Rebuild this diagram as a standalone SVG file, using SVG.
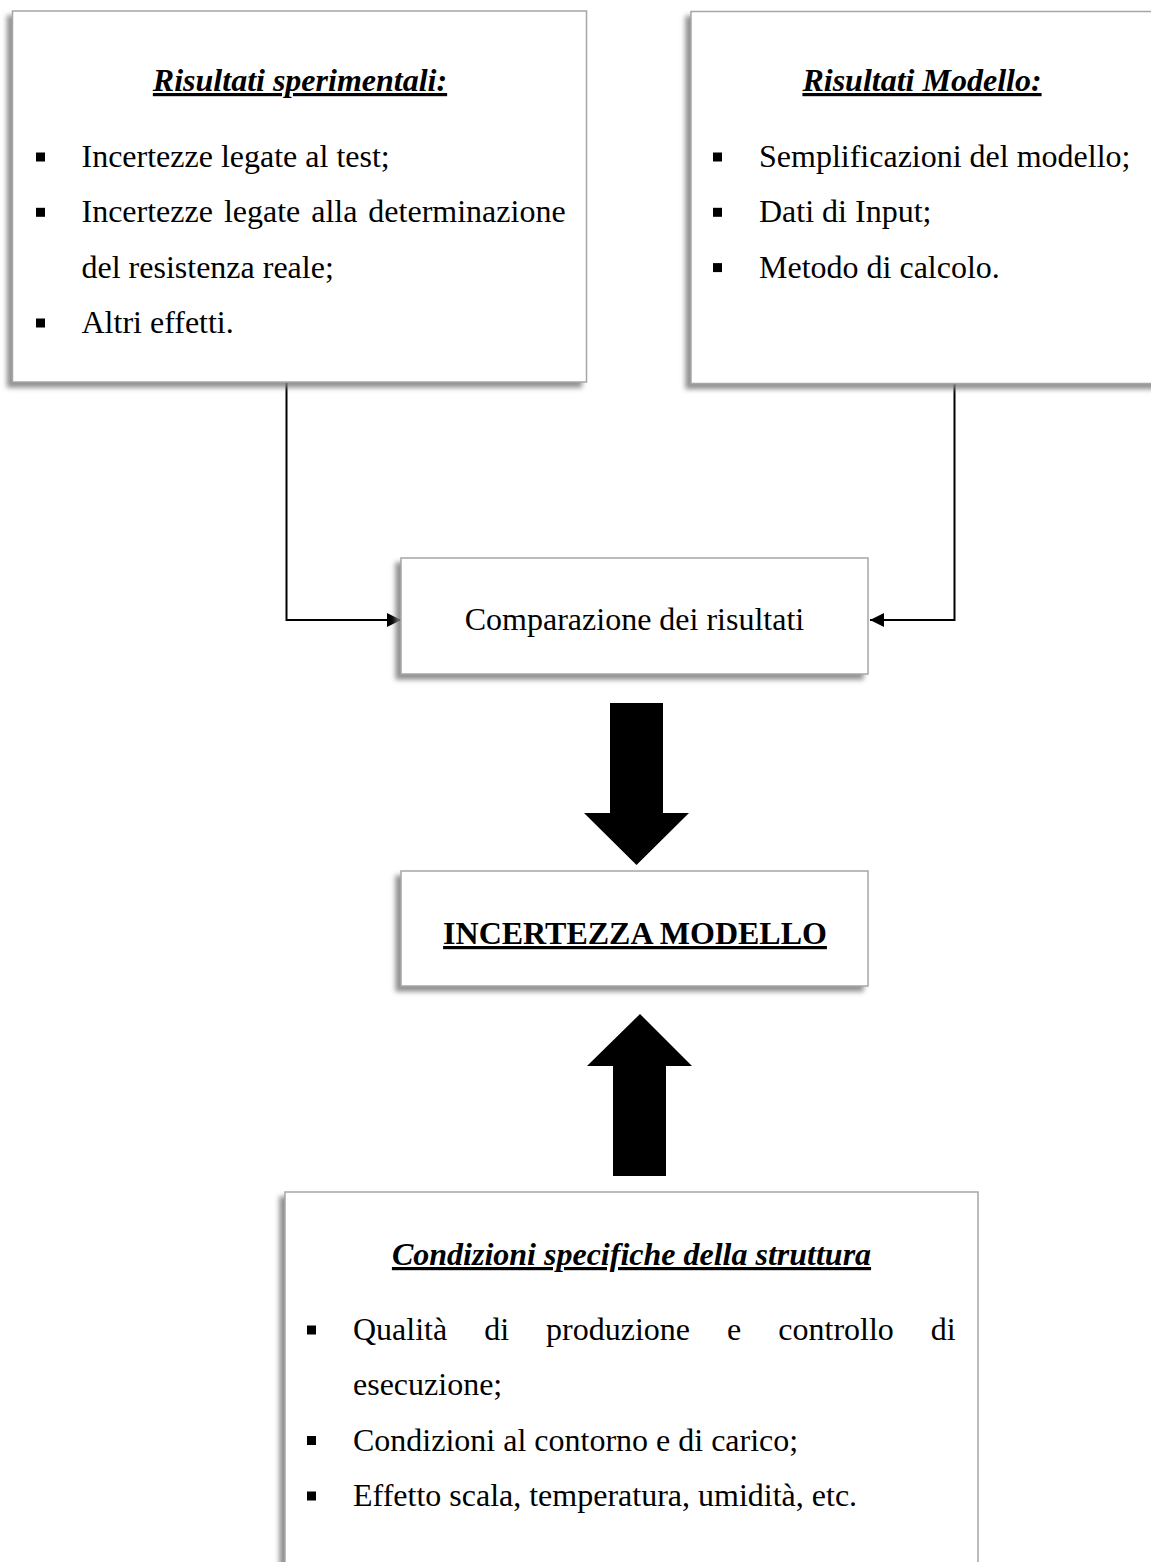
<svg xmlns="http://www.w3.org/2000/svg" width="1151" height="1562" viewBox="0 0 1151 1562">
<defs>
<filter id="sh" x="-10%" y="-10%" width="120%" height="130%">
<feDropShadow dx="-5" dy="5" stdDeviation="2.5" flood-color="#7f7f7f" flood-opacity="0.85"/>
</filter>
<marker id="ah" markerUnits="userSpaceOnUse" markerWidth="15" markerHeight="14" refX="14" refY="7" orient="auto">
<path d="M0,0 L14,7 L0,14 Z" fill="#000"/>
</marker>
</defs>
<style>
.box{fill:#fff;stroke:#a6a6a6;stroke-width:1.5;filter:url(#sh)}
.t{font-family:"Liberation Serif","Times New Roman",serif;font-size:32px;fill:#000}
.ti{font-weight:bold;font-style:italic;text-decoration:underline}
.tb{font-weight:bold;text-decoration:underline}
.c{text-anchor:middle}
.e{text-anchor:end}
.bl{fill:#000}
.ln{fill:none;stroke:#000;stroke-width:2}
</style>

<g id="connectors">
<polyline class="ln" points="286.5,383 286.5,620 401,620" marker-end="url(#ah)"/>
<polyline class="ln" points="954.5,384 954.5,620 870,620" marker-end="url(#ah)"/>
<polygon fill="#000" points="610,703 663,703 663,813 689,813 636.5,865 584,813 610,813"/>
<polygon fill="#000" points="613,1176 666,1176 666,1066 692,1066 640,1014 587,1066 613,1066"/>
</g>

<g id="node-sperimentali">
<rect class="box" x="12.5" y="11" width="574" height="371"/>
<text class="t ti c" x="300" y="91">Risultati sperimentali:</text>
<rect class="bl" x="36" y="152.5" width="9" height="9"/>
<text class="t" x="81.5" y="167">Incertezze legate al test;</text>
<rect class="bl" x="36" y="207.8" width="9" height="9"/>
<text class="t" y="222.3"><tspan x="81.5">Incertezze</tspan><tspan x="223.9">legate</tspan><tspan x="311.2">alla</tspan></text>
<text class="t e" x="565.6" y="222.3">determinazione</text>
<text class="t" x="81.5" y="277.6">del resistenza reale;</text>
<rect class="bl" x="36" y="318.5" width="9" height="9"/>
<text class="t" x="81.5" y="333">Altri effetti.</text>
</g>

<g id="node-modello">
<rect class="box" x="691" y="11.5" width="470" height="372"/>
<text class="t ti c" x="922" y="91">Risultati Modello:</text>
<rect class="bl" x="713" y="152.5" width="9" height="9"/>
<text class="t" x="759" y="167">Semplificazioni del modello;</text>
<rect class="bl" x="713" y="207.8" width="9" height="9"/>
<text class="t" x="759" y="222.3">Dati di Input;</text>
<rect class="bl" x="713" y="263.1" width="9" height="9"/>
<text class="t" x="759" y="277.6">Metodo di calcolo.</text>
</g>

<g id="node-comparazione">
<rect class="box" x="401" y="558" width="467" height="116"/>
<text class="t c" x="634.5" y="630">Comparazione dei risultati</text>
</g>

<g id="node-incertezza">
<rect class="box" x="401" y="871" width="467" height="115"/>
<text class="t tb c" x="635" y="944">INCERTEZZA MODELLO</text>
</g>

<g id="node-condizioni">
<rect class="box" x="285" y="1192" width="693" height="390"/>
<text class="t ti c" x="631.5" y="1265">Condizioni specifiche della struttura</text>
<rect class="bl" x="307" y="1325.5" width="9" height="9"/>
<text class="t" y="1340"><tspan x="353">Qualità</tspan><tspan x="484.2">di</tspan><tspan x="546.1">produzione</tspan><tspan x="727.1">e</tspan><tspan x="778.3">controllo</tspan></text>
<text class="t e" x="955.6" y="1340">di</text>
<text class="t" x="353" y="1395">esecuzione;</text>
<rect class="bl" x="307" y="1436" width="9" height="9"/>
<text class="t" x="353" y="1450.5">Condizioni al contorno e di carico;</text>
<rect class="bl" x="307" y="1491.5" width="9" height="9"/>
<text class="t" x="353" y="1506">Effetto scala, temperatura, umidità, etc.</text>
</g>
</svg>
